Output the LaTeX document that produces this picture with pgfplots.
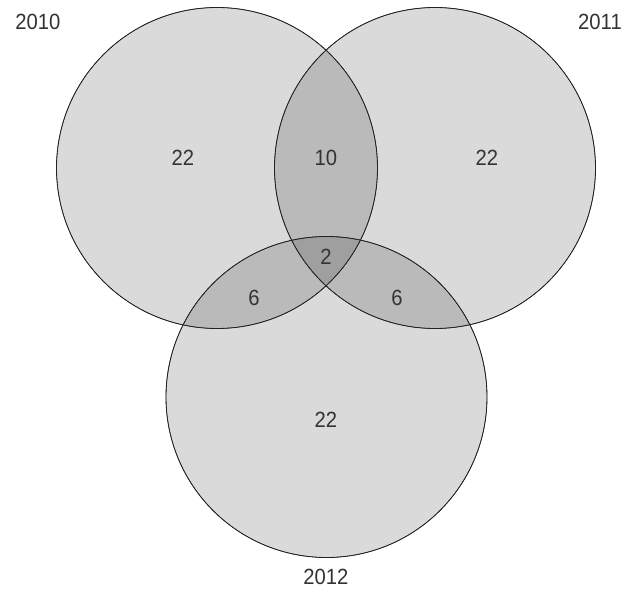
\documentclass[border=0pt]{standalone}
\usepackage{pgfplots}
\pgfplotsset{compat=1.18}
\usepackage{fontspec}
\setmainfont{Liberation Sans}[FakeStretch=0.92]
\definecolor{txt}{HTML}{333333}
\definecolor{edge}{HTML}{222222}

% circle centres (x, y) and radius, in picture pixels (y upwards)
\pgfplotstableread{
x y
217 432
435 432
326.5 203
}\circles

% region counts and set names
\pgfplotstableread{
x y lab
183 442 22
326 442 10
487 442 22
326 343 2
254 302 6
397 302 6
326 180 22
38 578 2010
600 578 2011
326 23 2012
}\labels

\begin{document}
\begin{tikzpicture}
\begin{axis}[
    x=1bp, y=1bp,
    xmin=0, xmax=634, ymin=0, ymax=600,
    hide axis, clip=false,
    scale only axis,
]
% fills, each circle ~14% black, so overlaps get darker
\addplot[only marks, mark=*, mark size=160.5bp,
    mark options={draw=none, fill=black, fill opacity=0.145}]
    table[x=x, y=y] {\circles};
% outlines
\addplot[only marks, mark=o, mark size=160.5bp,
    mark options={draw=edge, line width=0.8bp}]
    table[x=x, y=y] {\circles};
% texts
\addplot[draw=none, no marks,
    nodes near coords, point meta=explicit symbolic,
    every node near coord/.style={anchor=center, text=txt,
        font=\fontsize{22bp}{25bp}\selectfont}]
    table[x=x, y=y, meta=lab] {\labels};
\end{axis}
\pgfresetboundingbox
\path (0,0) rectangle (634bp,600bp);
\end{tikzpicture}
\end{document}
